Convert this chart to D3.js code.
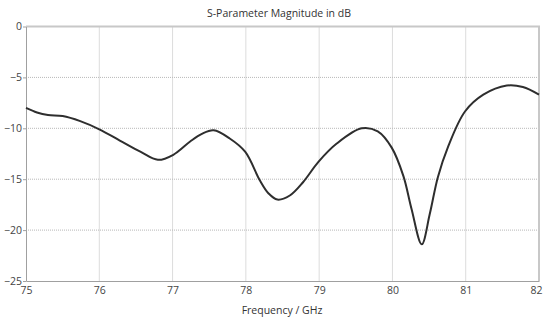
<!DOCTYPE html>
<html>
<head>
<meta charset="utf-8">
<script src="https://cdn.jsdelivr.net/npm/d3@7"></script>
<style>
  body { margin: 0; background: #fff; }
  text { font-family: "Open Sans", "Noto Sans", sans-serif; }
</style>
</head>
<body>
<div id="container"></div>
<script>
let w = 543;
let h = 321;
let padLeft = 26, padRight = 539, padTop = 26.5, padBottom = 281;

// values
let freqGHz = [75, 75.15, 75.3, 75.5, 75.74, 76.0, 76.28, 76.56, 76.8, 77.01, 77.24, 77.4, 77.56, 77.78, 77.99, 78.19, 78.31, 78.43, 78.6, 78.78, 78.99, 79.24, 79.58, 79.8, 79.99, 80.15, 80.26, 80.4, 80.51, 80.62, 80.76, 80.99, 81.24, 81.56, 81.78, 82];
let s11dB = [-8.0, -8.45, -8.7, -8.8, -9.3, -10.1, -11.2, -12.3, -13.1, -12.6, -11.3, -10.55, -10.2, -11.0, -12.3, -15.1, -16.4, -17.0, -16.6, -15.3, -13.3, -11.5, -10.0, -10.3, -11.9, -14.7, -17.9, -21.4, -18.4, -14.8, -11.8, -8.35, -6.7, -5.8, -5.95, -6.7];
let xTicks = [75, 76, 77, 78, 79, 80, 81, 82];
let yTicks = [0, -5, -10, -15, -20, -25];

let viz = d3.select("#container")
  .append("svg")
    .attr("width", w)
    .attr("height", h)
;

let xScale = d3.scaleLinear().domain([75, 82]).range([padLeft, padRight]);
let yScale = d3.scaleLinear().domain([0, -25]).range([padTop, padBottom]);

// title
viz.append("text")
  .attr("x", 279)
  .attr("y", 17)
  .attr("text-anchor", "middle")
  .attr("font-size", "10.5px")
  .attr("fill", "#333")
  .text("S-Parameter Magnitude in dB");

// grid
let grid = viz.append("g").attr("class", "grid");
grid.selectAll(".vgrid").data(xTicks.slice(1, -1)).enter().append("line")
  .attr("x1", d => xScale(d)).attr("x2", d => xScale(d))
  .attr("y1", padTop).attr("y2", padBottom)
  .attr("stroke", "#b8b8b8").attr("stroke-dasharray", "1,1");
grid.selectAll(".hgrid").data(yTicks.slice(1, -1)).enter().append("line")
  .attr("x1", padLeft).attr("x2", padRight)
  .attr("y1", d => yScale(d)).attr("y2", d => yScale(d))
  .attr("stroke", "#b8b8b8").attr("stroke-dasharray", "1,1");

// frame top / right
viz.append("path")
  .attr("d", "M" + padLeft + "," + padTop + "H" + padRight + "V" + padBottom)
  .attr("fill", "none").attr("stroke", "#c8c8c8").attr("stroke-width", 2);

// x axis
let xAxisGroup = viz.append("g").attr("class", "xaxis")
  .attr("transform", "translate(0," + padBottom + ")");
xAxisGroup.call(d3.axisBottom(xScale).tickValues(xTicks).tickSize(0).tickPadding(6).tickFormat(d3.format("d")));
xAxisGroup.select(".domain").attr("stroke", "#a0a0a0");
xAxisGroup.selectAll("text").attr("font-size", "10.5px").attr("fill", "#444")
  .attr("font-family", "'Open Sans', sans-serif");
// last label sits on the window edge, nudge it in
xAxisGroup.selectAll(".tick").filter(d => d === 82).select("text").attr("dx", -3);

// y axis
let yAxisGroup = viz.append("g").attr("class", "yaxis")
  .attr("transform", "translate(" + padLeft + ",0)");
yAxisGroup.call(d3.axisLeft(yScale).tickValues(yTicks).tickSize(0).tickPadding(4).tickFormat(d3.format("d")));
yAxisGroup.select(".domain").attr("stroke", "#a0a0a0");
yAxisGroup.selectAll("text").attr("font-size", "10.5px").attr("fill", "#444")
  .attr("font-family", "'Open Sans', sans-serif");
yAxisGroup.selectAll(".tick line").attr("x2", -3).attr("stroke", "#a0a0a0");

// x axis title
viz.append("text")
  .attr("x", 282)
  .attr("y", 314)
  .attr("text-anchor", "middle")
  .attr("font-size", "10.5px")
  .attr("fill", "#333")
  .text("Frequency / GHz");

// curve
let line = d3.line()
  .x((d, i) => xScale(freqGHz[i]))
  .y(d => yScale(d))
  .curve(d3.curveCatmullRom.alpha(0.5));

viz.append("path")
  .datum(s11dB)
  .attr("d", line)
  .attr("fill", "none")
  .attr("stroke", "#2e2e2e")
  .attr("stroke-width", 2);
</script>
</body>
</html>
